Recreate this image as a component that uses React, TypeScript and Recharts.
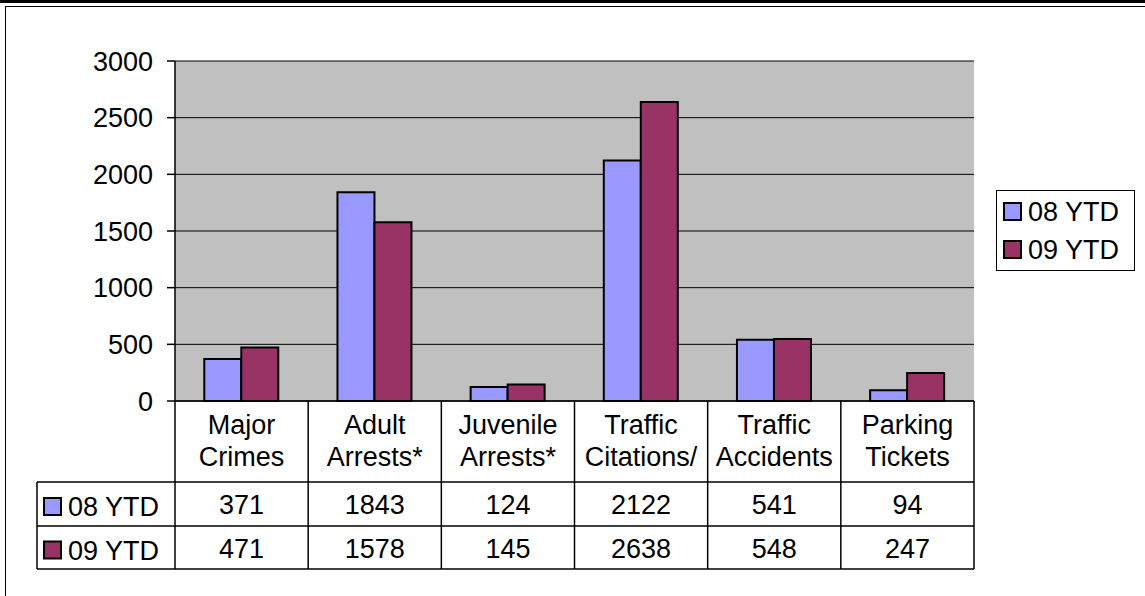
import React from "react";
import { BarChart, Bar, XAxis, YAxis, CartesianGrid } from "recharts";

const categories = [
  "Major Crimes",
  "Adult Arrests*",
  "Juvenile Arrests*",
  "Traffic Citations/",
  "Traffic Accidents",
  "Parking Tickets",
];
const ytd08 = [371, 1843, 124, 2122, 541, 94];
const ytd09 = [471, 1578, 145, 2638, 548, 247];
const seriesNames = ["08 YTD", "09 YTD"];
const seriesColors = ["#9999FF", "#993366"];
const yTicks = [0, 500, 1000, 1500, 2000, 2500, 3000];

const data = categories.map((name, i) => ({ name, a: ytd08[i], b: ytd09[i] }));

const W = 1145;
const H = 596;
const PLOT_L = 175;
const PLOT_R = 974;
const PLOT_T = 61;
const PLOT_B = 401;
const Y_AXIS_W = 60;
const BW = (PLOT_R - PLOT_L) / categories.length;

const ROW1 = 482;
const ROW2 = 526;
const TABLE_B = 569;
const TABLE_L = 37;

const FONT = "'Liberation Sans', Arial, sans-serif";
const FS = 27;
const LINE = "#000";

const Swatch = ({ color }: { color: string }) => (
  <div
    style={{
      width: 15,
      height: 15,
      background: color,
      border: "2px solid #000",
      flex: "none",
    }}
  />
);

type TickProps = { x?: number | string; payload?: { value: string } };

const renderColumn = (props: TickProps) => {
  const cx = Number(props.x);
  const name = props.payload?.value ?? "";
  const i = categories.indexOf(name);
  const left = cx - BW / 2;
  const right = cx + BW / 2;
  const words = name.split(" ");
  const r1 = (ROW1 + ROW2) / 2;
  const r2 = (ROW2 + TABLE_B) / 2;

  return (
    <g>
      <line x1={right} x2={right} y1={PLOT_B} y2={TABLE_B} stroke={LINE} strokeWidth={1.5} />
      {i === 0 && (
        <line x1={left} x2={left} y1={PLOT_B} y2={TABLE_B} stroke={LINE} strokeWidth={1.5} />
      )}
      <line x1={i === 0 ? TABLE_L : left} x2={right} y1={ROW1} y2={ROW1} stroke={LINE} strokeWidth={1.5} />
      <line x1={i === 0 ? TABLE_L : left} x2={right} y1={ROW2} y2={ROW2} stroke={LINE} strokeWidth={1.5} />
      <line x1={i === 0 ? TABLE_L : left} x2={right} y1={TABLE_B} y2={TABLE_B} stroke={LINE} strokeWidth={1.5} />
      {i === 0 && (
        <line x1={TABLE_L} x2={TABLE_L} y1={ROW1} y2={TABLE_B} stroke={LINE} strokeWidth={1.5} />
      )}
      <text x={cx} y={425} dy="0.35em" textAnchor="middle" fontSize={FS} fill="#000">
        {words[0]}
      </text>
      <text x={cx} y={457} dy="0.35em" textAnchor="middle" fontSize={FS} fill="#000">
        {words[1] ?? ""}
      </text>
      <text x={cx} y={r1 + 1} dy="0.35em" textAnchor="middle" fontSize={FS} fill="#000">
        {ytd08[i]}
      </text>
      <text x={cx} y={r2 + 1} dy="0.35em" textAnchor="middle" fontSize={FS} fill="#000">
        {ytd09[i]}
      </text>
      {i === 0 &&
        seriesNames.map((s, k) => {
          const cy = (k === 0 ? r1 : r2) + 3;
          return (
            <g key={s}>
              <rect x={44} y={cy - 9} width={17} height={17} fill={seriesColors[k]} stroke="#000" strokeWidth={2} />
              <text x={68} y={cy} dy="0.35em" fontSize={FS} fill="#000">
                {s}
              </text>
            </g>
          );
        })}
    </g>
  );
};

export default function App() {
  return (
    <div
      style={{
        position: "absolute",
        left: 0,
        top: 0,
        width: W,
        height: H,
        overflow: "hidden",
        background: "#fff",
        fontFamily: FONT,
      }}
    >
      <div style={{ position: "absolute", left: 0, top: 0, width: W, height: 3, background: "#000" }} />
      <div
        style={{
          position: "absolute",
          left: 5,
          top: 6,
          width: W + 50,
          height: H + 50,
          border: "1.5px solid #000",
        }}
      />
      <div style={{ position: "absolute", left: 0, top: 0 }}>
        <BarChart
          width={W}
          height={H}
          data={data}
          margin={{ top: PLOT_T, right: W - PLOT_R, bottom: 0, left: PLOT_L - Y_AXIS_W }}
          barCategoryGap="22%"
          barGap={0}
          style={{ fontFamily: FONT }}
        >
          <CartesianGrid vertical={false} stroke="#000" strokeWidth={1} fill="#C0C0C0" fillOpacity={1} />
          <XAxis
            dataKey="name"
            interval={0}
            height={H - PLOT_B}
            axisLine={{ stroke: "#000", strokeWidth: 1.5 }}
            tickLine={false}
            tick={renderColumn}
          />
          <XAxis
            xAxisId="top"
            dataKey="name"
            orientation="top"
            height={0}
            tick={false}
            tickLine={false}
            axisLine={{ stroke: "#808080", strokeWidth: 3 }}
          />
          <YAxis
            domain={[0, 3000]}
            ticks={yTicks}
            interval={0}
            width={Y_AXIS_W}
            tickSize={8}
            tickMargin={14}
            axisLine={{ stroke: "#000", strokeWidth: 1.5 }}
            tickLine={{ stroke: "#000", strokeWidth: 1.5 }}
            tick={{ fill: "#000", fontSize: FS }}
          />
          <YAxis
            yAxisId="right"
            orientation="right"
            domain={[0, 3000]}
            width={0}
            tick={false}
            tickLine={false}
            axisLine={{ stroke: "#808080", strokeWidth: 3 }}
          />
          <Bar dataKey="a" name={seriesNames[0]} fill={seriesColors[0]} stroke="#000" strokeWidth={2} isAnimationActive={false} />
          <Bar dataKey="b" name={seriesNames[1]} fill={seriesColors[1]} stroke="#000" strokeWidth={2} isAnimationActive={false} />
        </BarChart>
      </div>
      <div
        style={{
          position: "absolute",
          left: 996,
          top: 190,
          width: 137,
          height: 79,
          border: "1.5px solid #000",
          background: "#fff",
          display: "flex",
          flexDirection: "column",
          justifyContent: "center",
          gap: 12,
        }}
      >
        {seriesNames.map((s, k) => (
          <div key={s} style={{ display: "flex", alignItems: "center", marginLeft: 6, height: 26 }}>
            <Swatch color={seriesColors[k]} />
            <span style={{ fontSize: FS, marginLeft: 6, lineHeight: "26px", color: "#000" }}>{s}</span>
          </div>
        ))}
      </div>
    </div>
  );
}
